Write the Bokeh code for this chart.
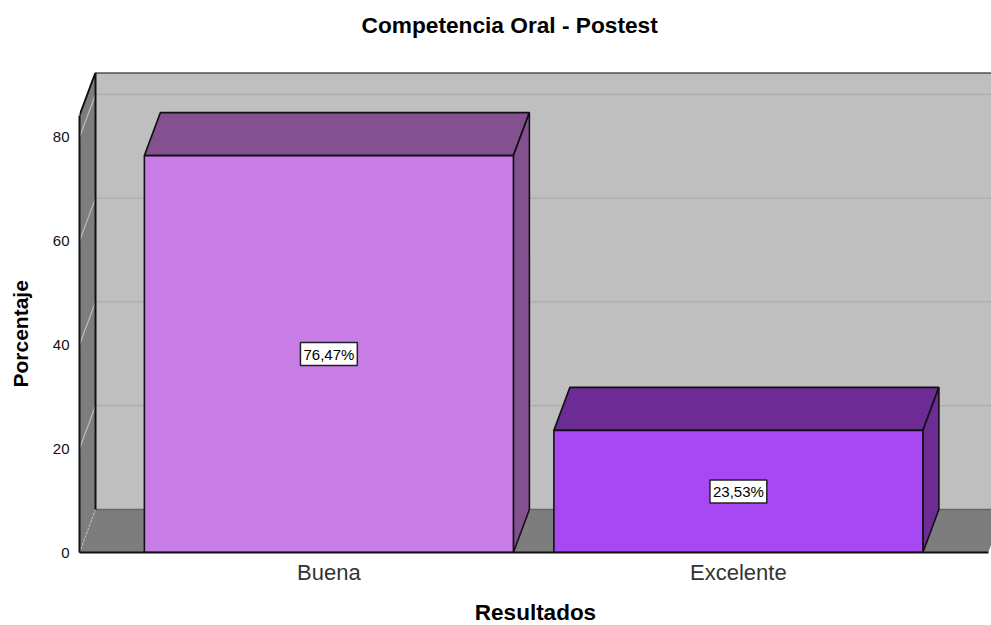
from bokeh.plotting import figure
from bokeh.models import Range1d, FixedTicker, Label, Title
from bokeh.embed import file_html
from bokeh.resources import INLINE

# ---- data ----
categories = ["Buena", "Excelente"]
percentages = [76.47, 23.53]
value_labels = ["76,47%", "23,53%"]
y_ticks = [0, 20, 40, 60, 80]
title_text = "Competencia Oral - Postest"
x_title = "Resultados"
y_title = "Porcentaje"
front_colors = ["#C87DE6", "#A848F2"]
shade_colors = ["#835190", "#6C2C94"]

# ---- layout constants ----
PX_X = 409.5            # px per category
PX_Y = 5.19             # px per percent
DX = 16 / PX_X          # 3D depth, x
DY = 43 / PX_Y          # 3D depth, y
HALF = 184.5 / PX_X     # half bar width
XL = -0.609
XR = XL + 912 / PX_X
XF = 1.61               # right end of the floor
YT = 480 / PX_Y
YS = 84.2               # top of the side wall's front edge
FONT = "Liberation Sans"

p = figure(width=991, height=625, output_backend="svg", toolbar_location=None,
           x_range=Range1d(XL, XR), y_range=Range1d(0, YT),
           min_border_left=79, min_border_right=0, min_border_top=72, min_border_bottom=0,
           frame_width=912, frame_height=480, tools="")
p.background_fill_color = "white"
p.border_fill_color = "white"
p.outline_line_color = None
p.grid.visible = False

# title, lifted by a blank spacer panel between it and the frame
p.add_layout(Title(text=" ", text_font_size="10px", standoff=14), "above")
p.title.text = title_text
p.title.align = "left"
p.title.offset = 282
p.title.text_font = FONT
p.title.text_font_size = "22.7px"
p.title.text_font_style = "bold"
p.title.text_color = "black"
p.title.standoff = 16

# y title, centred on the axis and not on the frame, with a blank spacer beside the axis
p.add_layout(Title(text=" ", text_font_size="6px", standoff=3), "left")
p.add_layout(Title(text=y_title, align="left", offset=165, standoff=13, text_font=FONT,
                   text_font_size="21px", text_font_style="bold", text_color="black"), "left")

# walls
wall_right = XF + DX
p.patch([XL + DX, wall_right, wall_right, XL + DX], [DY, DY, YT, YT],
        fill_color="#BFBFBF", line_color=None)
p.patch([XL, XL + DX, XL + DX, XL], [0, DY, YT, YS],
        fill_color="#7D7D7D", line_color=None)
p.patch([XL, XF, wall_right, XL + DX], [0, 0, DY, DY],
        fill_color="#7D7D7D", line_color=None)

# gridlines
grid_vals = [t for t in y_ticks if t > 0]
p.segment([XL + DX] * 4, [t + DY for t in grid_vals], [wall_right] * 4, [t + DY for t in grid_vals],
          line_color="#ABABAB", line_width=1.2)
p.segment([XL] * 4, grid_vals, [XL + DX] * 4, [t + DY for t in grid_vals],
          line_color="#BDBDBD", line_width=1.2)
p.segment([XL], [0], [XL + DX], [DY], line_color="#BDBDBD", line_width=1.2, line_dash="2 2")
p.segment([XL + DX], [DY], [wall_right], [DY], line_color="#666666", line_width=1.5)

# wall outlines
p.line([XL, XL + DX, XL + DX], [YS, YT, DY], line_color="#111111", line_width=2)
p.line([XL + DX, wall_right], [YT, YT], line_color="#111111", line_width=2)

# bars
for i, (v, cf, cs) in enumerate(zip(percentages, front_colors, shade_colors)):
    l, r = i - HALF, i + HALF
    p.patch([l, r, r + DX, l + DX], [v, v, v + DY, v + DY],
            fill_color=cs, line_color="#111111", line_width=1.6)
    p.patch([r, r + DX, r + DX, r], [0, DY, v + DY, v],
            fill_color=cs, line_color="#111111", line_width=1.6)
    p.quad(left=[l], right=[r], bottom=[0], top=[v],
           fill_color=cf, line_color="#111111", line_width=1.6)
    p.add_layout(Label(x=i, y=v / 2, text=value_labels[i], text_align="center",
                       text_baseline="middle", text_font=FONT, text_font_size="15px",
                       text_color="black", background_fill_color="white",
                       border_line_color="#222222", border_line_width=1.5, padding=3))

# axes
xa = p.xaxis[0]
xa.ticker = FixedTicker(ticks=list(range(len(categories))))
xa.bounds = (XL, XF)
xa.major_label_overrides = {i: c for i, c in enumerate(categories)}
xa.major_label_text_font = FONT
xa.major_label_text_font_size = "22px"
xa.major_label_text_color = "#333333"
xa.major_tick_line_color = None
xa.minor_tick_line_color = None
xa.major_label_standoff = 1
xa.axis_line_color = "#111111"
xa.axis_line_width = 2
xa.axis_label = x_title
xa.axis_label_text_font = FONT
xa.axis_label_text_font_size = "22.5px"
xa.axis_label_text_font_style = "bold"
xa.axis_label_text_color = "black"
xa.axis_label_standoff = 12

ya = p.yaxis[0]
ya.ticker = FixedTicker(ticks=y_ticks)
ya.bounds = (0, YS)
ya.major_label_text_font = FONT
ya.major_label_text_font_size = "15px"
ya.major_label_text_color = "#111111"
ya.major_tick_line_color = None
ya.minor_tick_line_color = None
ya.major_label_standoff = 4
ya.axis_line_color = "#111111"
ya.axis_line_width = 2

open("out.html", "w").write(file_html(p, INLINE))
